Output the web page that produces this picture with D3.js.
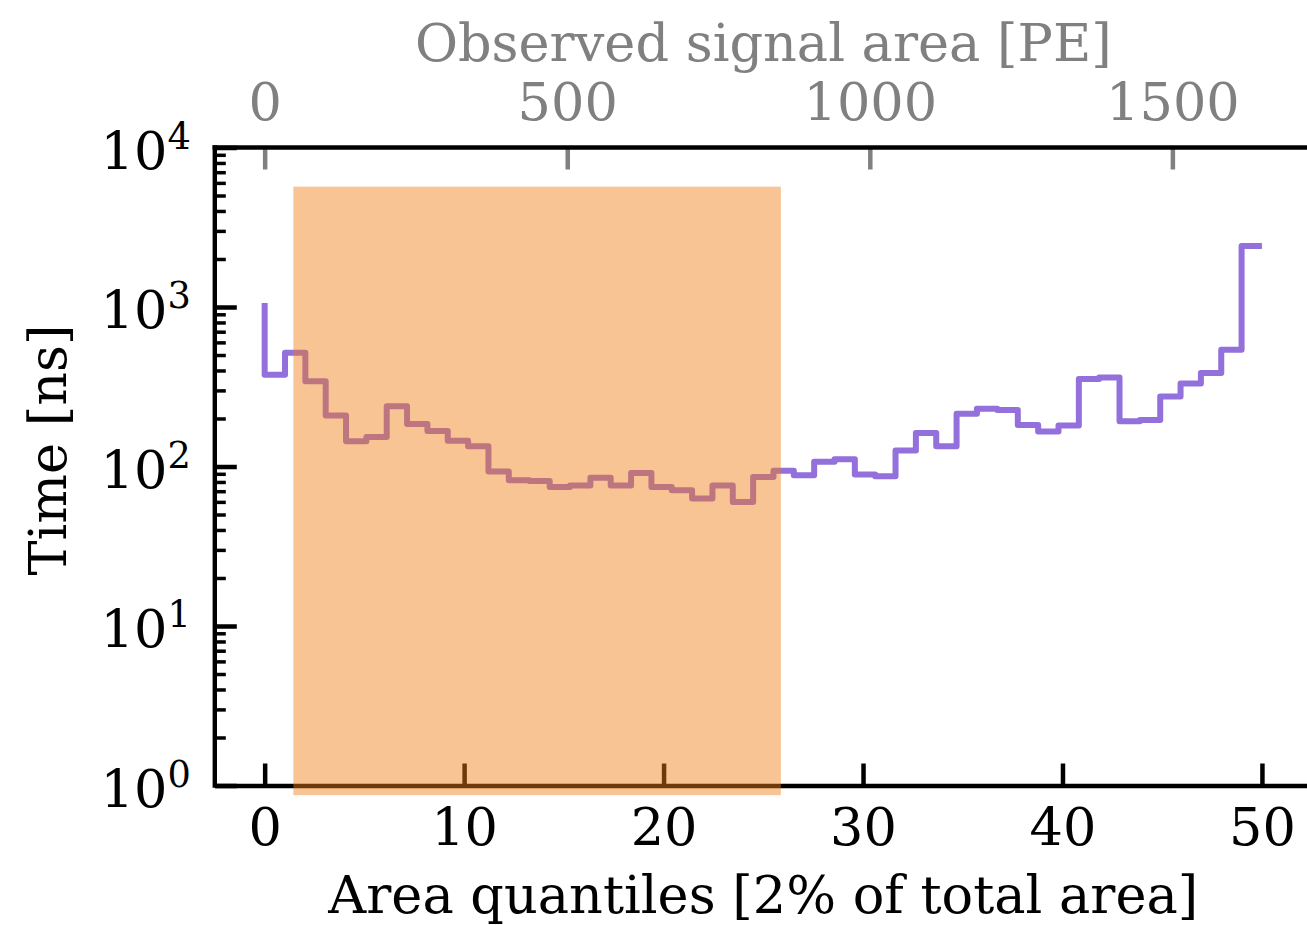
<!DOCTYPE html>
<html><head><meta charset="utf-8">
<script src="https://cdn.jsdelivr.net/npm/d3@7"></script>
<style>body{margin:0;background:#fff;overflow:hidden} svg{display:block}</style>
</head><body><svg id="c" width="1307" height="925"></svg>
<script>
// ---- data ----
const quantilePos = [0, 1.02, 2.04, 3.06, 4.08, 5.10, 6.12, 7.14, 8.16, 9.18, 10.20, 11.22, 12.24, 13.27, 14.29, 15.31, 16.33, 17.35, 18.37, 19.39, 20.41, 21.43, 22.45, 23.47, 24.49, 25.51, 26.53, 27.55, 28.57, 29.59, 30.61, 31.63, 32.65, 33.67, 34.69, 35.71, 36.73, 37.76, 38.78, 39.80, 40.82, 41.84, 42.86, 43.88, 44.90, 45.92, 46.94, 47.96, 48.98, 50];
const timeNs = [1059, 376, 516, 342, 209, 144, 153, 239, 185, 167, 145, 134, 93, 82, 81, 74.5, 76, 85, 76, 91, 74.5, 71, 63, 76, 60, 86, 94, 88, 107, 111, 89, 87, 126, 162, 134, 214, 230, 226, 182, 166, 181, 354, 362, 192, 196, 275, 332, 386, 540, 2410];
const spanX = [1.44, 25.88];
const spanY = [0.87, 5680];
const bottomTicks = [0, 10, 20, 30, 40, 50];
const topTicks = [0, 500, 1000, 1500];
const peAtQuantile50 = 1648;
const yMajorTicks = [1, 10, 100, 1000, 10000];
const yMinorTicks = [2,3,4,5,6,7,8,9,20,30,40,50,60,70,80,90,200,300,400,500,600,700,800,900,2000,3000,4000,5000,6000,7000,8000,9000];
const xLabel = "Area quantiles [2% of total area]";
const yLabel = "Time [ns]";
const topLabel = "Observed signal area [PE]";

// ---- layout ----
const L = 214.8, R = 1311.8, T = 147.5, B = 785.5;
const FONT = "DejaVu Serif";
const FS = 52.5;
const svg = d3.select("#c");

const x = d3.scaleLinear().domain([-2.5, 52.5]).range([L, R]);
const xTop = d3.scaleLinear().domain([0, peAtQuantile50]).range([x(0), x(50)]);
const y = d3.scaleLog().domain([1, 10000]).range([B, T]);

function styleAxis(g, color, tickW, spineColor) {
  g.select(".domain").attr("stroke", spineColor || "#000").attr("stroke-width", 4.4);
  g.selectAll(".tick line").attr("stroke", color).attr("stroke-width", tickW);
  g.selectAll(".tick text").attr("fill", color).attr("font-family", FONT).attr("font-size", FS);
}

// bottom axis
const gx = svg.append("g").attr("transform", `translate(0,${B})`)
  .call(d3.axisBottom(x).tickValues(bottomTicks).tickSizeInner(-22).tickSizeOuter(0).tickPadding(22).tickFormat(d3.format("d")));
styleAxis(gx, "#000", 4.5);
gx.selectAll(".tick text").attr("dy", "0.71em");

// top axis
const gt = svg.append("g").attr("transform", `translate(0,${T})`)
  .call(d3.axisTop(xTop).tickValues(topTicks).tickSizeInner(-22).tickSizeOuter(0).tickPadding(27.5).tickFormat(d3.format("d")));
gt.select(".domain").remove();
svg.append("line").attr("x1", L - 2.2).attr("x2", R).attr("y1", T).attr("y2", T).attr("stroke", "#000").attr("stroke-width", 4.4);
styleAxis(gt, "#808080", 4.5);

// left axis minor
const gym = svg.append("g").attr("transform", `translate(${L},0)`)
  .call(d3.axisLeft(y).tickValues(yMinorTicks).tickSizeInner(-11).tickSizeOuter(0).tickFormat(""));
gym.select(".domain").remove();
gym.selectAll(".tick line").attr("stroke", "#000").attr("stroke-width", 3.5);

// left axis major
const gy = svg.append("g").attr("transform", `translate(${L},0)`)
  .call(d3.axisLeft(y).tickValues(yMajorTicks).tickSizeInner(-22).tickSizeOuter(0).tickPadding(24).tickFormat(""));
gy.select(".domain").attr("d", `M0,${B + 2.2}V${T - 2.2}`);
styleAxis(gy, "#000", 4.5);
gy.selectAll(".tick text").each(function(d) {
  const t = d3.select(this).attr("dy", null).attr("y", 20.5);
  t.text(null);
  t.append("tspan").text("10");
  t.append("tspan").attr("dy", -20).attr("font-size", FS * 0.7).text(String(Math.round(Math.log10(d))));
});

// step line
const line = d3.line().x((d, i) => x(quantilePos[i])).y(d => y(d)).curve(d3.curveStepBefore);
svg.append("path").datum(timeNs).attr("d", line)
  .attr("fill", "none").attr("stroke", "#9370DB").attr("stroke-width", 6)
  .attr("stroke-linejoin", "round");

// highlighted span
svg.append("rect")
  .attr("x", x(spanX[0])).attr("width", x(spanX[1]) - x(spanX[0]))
  .attr("y", y(spanY[1])).attr("height", y(spanY[0]) - y(spanY[1]))
  .attr("fill", "rgb(240,126,22)").attr("fill-opacity", 0.46);

// labels
svg.append("text").attr("x", (L + R) / 2).attr("y", 913).attr("text-anchor", "middle")
  .attr("font-family", FONT).attr("font-size", FS).attr("fill", "#000").text(xLabel);
svg.append("text").attr("x", (L + R) / 2).attr("y", 61).attr("text-anchor", "middle")
  .attr("font-family", FONT).attr("font-size", FS).attr("fill", "#808080").text(topLabel);
svg.append("text").attr("transform", `translate(66,450) rotate(-90)`).attr("text-anchor", "middle")
  .attr("font-family", FONT).attr("font-size", FS).attr("fill", "#000").text(yLabel);
</script></body></html>
